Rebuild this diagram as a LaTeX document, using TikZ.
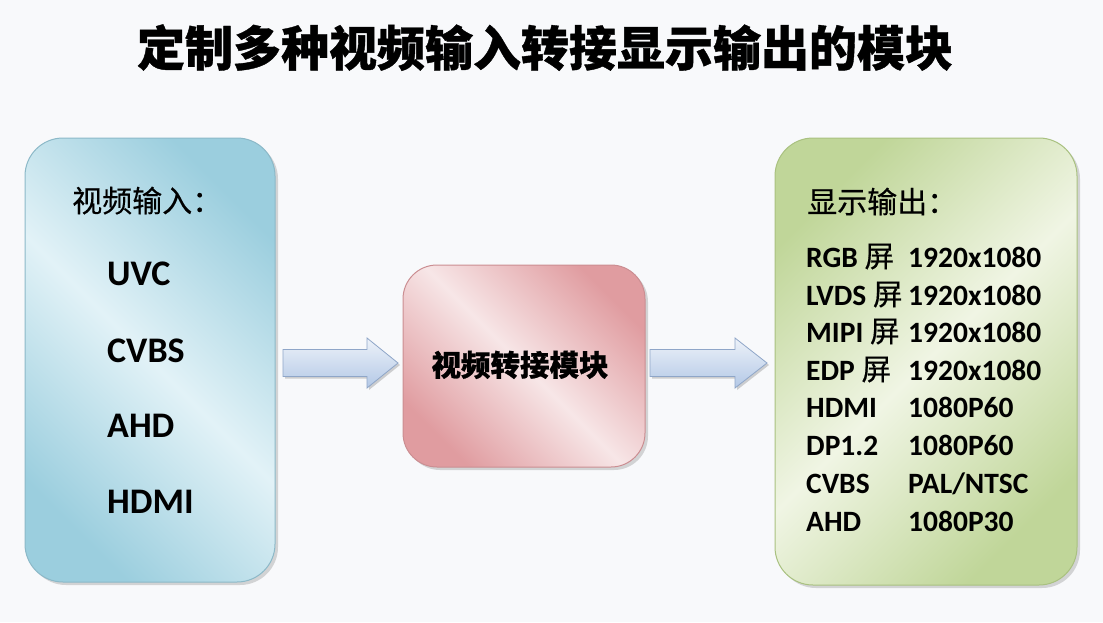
\documentclass[tikz,border=0pt]{standalone}
\usepackage{fontspec}
\setmainfont{Carlito}
\newfontfamily\cjk{Noto Sans CJK SC}
\newfontfamily\cjkh{Noto Sans CJK SC}[BoldFeatures={FakeBold=0.8}]
\newfontfamily\cjkm{Noto Sans CJK SC}[FakeBold=0.4]
\usetikzlibrary{shadows}
\definecolor{bg}{HTML}{F8F9FB}
\definecolor{blueD}{HTML}{9BCEDE}
\definecolor{blueL}{HTML}{E2F2F7}
\definecolor{blueB}{HTML}{8CB9C8}
\definecolor{pinkD}{HTML}{E09CA0}
\definecolor{pinkL}{HTML}{F7E6E7}
\definecolor{pinkB}{HTML}{CB8E92}
\definecolor{greenD}{HTML}{C0D699}
\definecolor{greenL}{HTML}{F0F5E4}
\definecolor{greenB}{HTML}{A9C180}
\definecolor{arrD}{HTML}{B3C8E6}
\definecolor{arrL}{HTML}{EDF2F9}
\definecolor{arrB}{HTML}{8FA6C8}
\tikzset{
  panel/.style={draw=#1, line width=1pt, rounded corners=38pt,
    drop shadow={shadow xshift=3pt, shadow yshift=-3pt, opacity=0.22, fill=black!70}},
  bluebox/.style={panel=blueB, left color=blueD, right color=blueD, middle color=blueL, shading angle=135},
  pinkbox/.style={panel=pinkB, left color=pinkD, right color=pinkD, middle color=pinkL, shading angle=135},
  greenbox/.style={panel=greenB, left color=greenD, right color=greenD, middle color=greenL, shading angle=45},
  blockarrow/.style={draw=arrB, line width=0.8pt, top color=arrL, bottom color=arrD,
    drop shadow={shadow xshift=2pt, shadow yshift=-2pt, opacity=0.25, fill=black!70}},
  txt/.style={inner sep=0pt, anchor=base west},
  big/.style={font=\fontsize{36}{42}\selectfont\bfseries},
  row/.style={font=\fontsize{29.5}{34}\selectfont\bfseries},
  head/.style={font=\fontsize{30}{36}\selectfont\cjkm}
}
\begin{document}
\begin{tikzpicture}[x=1pt,y=-1pt]
\useasboundingbox[fill=bg] (0,0) rectangle (1103,622);

% title
\node[inner sep=0pt, anchor=base, font=\fontsize{48}{56}\selectfont\cjkh\bfseries] (title) at (545,66) {定制多种视频输入转接显示输出的模块};

% boxes
\node[bluebox, minimum width=250pt, minimum height=444pt] (inbox) at (150,360) {};
\node[pinkbox, rounded corners=34pt, minimum width=242pt, minimum height=202pt] (mid) at (524,366) {};
\node[greenbox, minimum width=302pt, minimum height=447pt] (outbox) at (926,361.5) {};

% arrows
\coordinate (a1) at (283,363);
\coordinate (a2) at (650,363);
\draw[blockarrow] (a1) ++(0,-13.5) -- ++(84,0) -- ++(0,-11.5) -- (398,363) -- (367,388) -- ++(0,-11.5) -- ++(-84,0) -- cycle;
\draw[blockarrow] (a2) ++(0,-13.5) -- ++(85,0) -- ++(0,-11.5) -- (767,363) -- (735,388) -- ++(0,-11.5) -- ++(-85,0) -- cycle;

% left texts
\node[txt, head] (inhead) at (72,212) {视频输入：};
\node[txt, big] (i1) at (107,285) {UVC};
\node[txt, big] (i2) at (107,362) {CVBS};
\node[txt, big] (i3) at (107,437) {AHD};
\node[txt, big] (i4) at (107,513) {HDMI};

% middle text
\node[inner sep=0pt, anchor=base, font=\fontsize{29.5}{36}\selectfont\cjkh\bfseries] (midtext) at (520,376) {视频转接模块};

% right texts
\node[txt, head] (outhead) at (807,213) {显示输出：};
\node[txt, row] (o1) at (806,267) {RGB {\cjkm\mdseries 屏}};
\node[txt, row] (o2) at (806,305) {LVDS {\cjkm\mdseries 屏}};
\node[txt, row] (o3) at (806,342) {MIPI {\cjkm\mdseries 屏}};
\node[txt, row] (o4) at (806,380) {EDP {\cjkm\mdseries 屏}};
\node[txt, row] (o5) at (806,417) {HDMI};
\node[txt, row] (o6) at (806,455) {DP1.2};
\node[txt, row] (o7) at (806,493) {CVBS};
\node[txt, row] (o8) at (806,531) {AHD};
\node[txt, row] (v1) at (908,267) {1920x1080};
\node[txt, row] (v2) at (908,305) {1920x1080};
\node[txt, row] (v3) at (908,342) {1920x1080};
\node[txt, row] (v4) at (908,380) {1920x1080};
\node[txt, row] (v5) at (908,417) {1080P60};
\node[txt, row] (v6) at (908,455) {1080P60};
\node[txt, row] (v7) at (908,493) {PAL/NTSC};
\node[txt, row] (v8) at (908,531) {1080P30};
\end{tikzpicture}
\end{document}
